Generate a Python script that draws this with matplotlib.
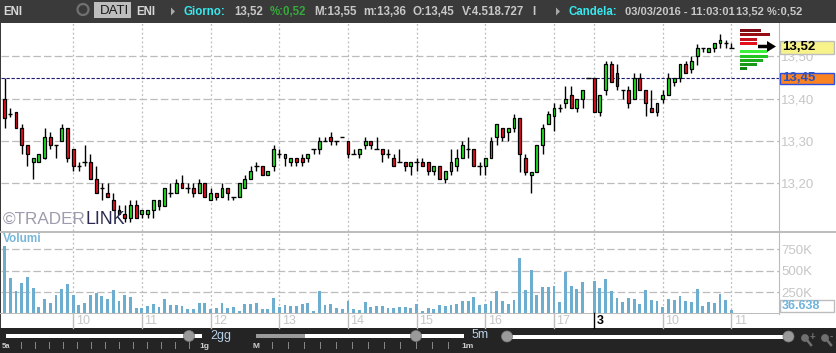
import matplotlib
matplotlib.use("Agg")
from matplotlib import pyplot as plt
from matplotlib.patches import Rectangle, Circle, FancyArrow

plt.rcParams['font.family'] = ['Liberation Sans', 'DejaVu Sans']

opens = [13.40, 13.364, 13.369, 13.332, 13.291, 13.25, 13.25, 13.26, 13.31, 13.291,
         13.30, 13.332, 13.282, 13.24, 13.25, 13.25, 13.21, 13.188, 13.178, 13.16,
         13.138, 13.128, 13.118, 13.148, 13.128, 13.128, 13.138, 13.16, 13.146, 13.178,
         13.178, 13.20, 13.188, 13.188, 13.178, 13.20, 13.16, 13.178, 13.169, 13.188,
         13.169, 13.169, 13.188, 13.21, 13.24, 13.24, 13.219, 13.24, 13.27, 13.26,
         13.25, 13.26, 13.26, 13.26, 13.282, 13.282, 13.30, 13.31, 13.30, 13.31,
         13.30, 13.27, 13.27, 13.291, 13.30, 13.282, 13.282, 13.27, 13.26, 13.25,
         13.25, 13.24, 13.25, 13.25, 13.25, 13.23, 13.24, 13.21, 13.23, 13.24,
         13.26, 13.282, 13.282, 13.24, 13.24, 13.26, 13.31, 13.332, 13.322, 13.332,
         13.354, 13.26, 13.219, 13.228, 13.291, 13.341, 13.359, 13.378, 13.39, 13.41,
         13.378, 13.40, 13.45, 13.45, 13.368, 13.42, 13.481, 13.46, 13.42, 13.42,
         13.40, 13.45, 13.42, 13.378, 13.368, 13.40, 13.41, 13.44, 13.45, 13.481,
         13.47, 13.50, 13.52, 13.51, 13.52, 13.531, 13.531, 13.52]
highs = [13.45, 13.378, 13.369, 13.341, 13.291, 13.26, 13.27, 13.332, 13.322, 13.291,
         13.341, 13.332, 13.282, 13.25, 13.291, 13.27, 13.24, 13.20, 13.20, 13.178,
         13.148, 13.148, 13.16, 13.16, 13.138, 13.138, 13.16, 13.16, 13.188, 13.20,
         13.21, 13.219, 13.20, 13.20, 13.21, 13.20, 13.188, 13.178, 13.20, 13.188,
         13.169, 13.20, 13.219, 13.24, 13.25, 13.24, 13.23, 13.291, 13.282, 13.27,
         13.26, 13.26, 13.27, 13.27, 13.282, 13.31, 13.31, 13.322, 13.30, 13.31,
         13.30, 13.282, 13.282, 13.31, 13.30, 13.31, 13.282, 13.282, 13.27, 13.282,
         13.25, 13.25, 13.26, 13.26, 13.25, 13.24, 13.24, 13.23, 13.282, 13.282,
         13.30, 13.31, 13.282, 13.25, 13.26, 13.31, 13.341, 13.332, 13.332, 13.364,
         13.354, 13.27, 13.228, 13.291, 13.341, 13.372, 13.39, 13.388, 13.431, 13.431,
         13.40, 13.42, 13.45, 13.45, 13.41, 13.49, 13.49, 13.481, 13.42, 13.43,
         13.46, 13.46, 13.42, 13.42, 13.39, 13.42, 13.46, 13.45, 13.481, 13.49,
         13.50, 13.53, 13.52, 13.52, 13.531, 13.552, 13.54, 13.531]
lows = [13.33, 13.356, 13.332, 13.27, 13.242, 13.21, 13.25, 13.258, 13.282, 13.26,
        13.30, 13.25, 13.23, 13.23, 13.24, 13.21, 13.178, 13.16, 13.169, 13.138,
        13.128, 13.108, 13.108, 13.118, 13.118, 13.118, 13.118, 13.138, 13.146, 13.169,
        13.178, 13.188, 13.178, 13.169, 13.178, 13.169, 13.16, 13.16, 13.169, 13.16,
        13.16, 13.169, 13.188, 13.21, 13.23, 13.219, 13.219, 13.23, 13.26, 13.24,
        13.24, 13.24, 13.24, 13.25, 13.27, 13.27, 13.30, 13.291, 13.291, 13.31,
        13.26, 13.27, 13.26, 13.282, 13.282, 13.282, 13.25, 13.26, 13.24, 13.25,
        13.23, 13.219, 13.23, 13.24, 13.219, 13.219, 13.21, 13.20, 13.219, 13.23,
        13.26, 13.26, 13.24, 13.219, 13.219, 13.26, 13.291, 13.30, 13.30, 13.322,
        13.228, 13.219, 13.178, 13.228, 13.27, 13.341, 13.324, 13.368, 13.378, 13.378,
        13.368, 13.378, 13.45, 13.368, 13.359, 13.41, 13.44, 13.42, 13.40, 13.378,
        13.40, 13.42, 13.359, 13.368, 13.359, 13.39, 13.41, 13.43, 13.44, 13.46,
        13.46, 13.48, 13.51, 13.51, 13.51, 13.52, 13.52, 13.52]
closes = [13.354, 13.364, 13.332, 13.291, 13.27, 13.26, 13.27, 13.31, 13.291, 13.291,
          13.332, 13.26, 13.24, 13.24, 13.25, 13.21, 13.178, 13.188, 13.169, 13.138,
          13.128, 13.118, 13.148, 13.118, 13.138, 13.138, 13.16, 13.146, 13.188, 13.178,
          13.20, 13.188, 13.188, 13.178, 13.20, 13.169, 13.178, 13.169, 13.188, 13.178,
          13.169, 13.20, 13.21, 13.23, 13.24, 13.219, 13.23, 13.282, 13.27, 13.27,
          13.26, 13.25, 13.25, 13.27, 13.282, 13.30, 13.30, 13.30, 13.30, 13.31,
          13.27, 13.27, 13.282, 13.30, 13.291, 13.282, 13.27, 13.27, 13.24, 13.25,
          13.24, 13.25, 13.25, 13.24, 13.23, 13.24, 13.21, 13.23, 13.25, 13.26,
          13.291, 13.282, 13.24, 13.24, 13.26, 13.30, 13.341, 13.31, 13.332, 13.354,
          13.27, 13.228, 13.228, 13.291, 13.332, 13.363, 13.378, 13.378, 13.40, 13.378,
          13.40, 13.42, 13.45, 13.368, 13.41, 13.481, 13.44, 13.43, 13.42, 13.39,
          13.45, 13.42, 13.39, 13.368, 13.39, 13.41, 13.45, 13.45, 13.481, 13.46,
          13.49, 13.52, 13.52, 13.52, 13.531, 13.54, 13.531, 13.52]
volumes = [789, 414, 262, 355, 426, 297, 74, 168, 121, 215,
           285, 344, 215, 98, 121, 215, 238, 203, 168, 273,
           145, 215, 191, 62, 62, 86, 109, 74, 168, 98,
           98, 86, 51, 51, 121, 121, 51, 62, 121, 62,
           74, 27, 109, 109, 121, 51, 51, 180, 74, 98,
           86, 86, 109, 121, 27, 262, 98, 109, 62, 51,
           145, 51, 39, 133, 74, 86, 86, 62, 62, 74,
           74, 62, 109, 27, 62, 51, 98, 86, 98, 109,
           145, 145, 191, 98, 109, 145, 262, 145, 109, 156,
           648, 273, 508, 215, 309, 309, 320, 133, 484, 320,
           285, 367, 0, 379, 297, 402, 262, 180, 133, 180,
           168, 109, 273, 156, 145, 74, 168, 156, 203, 145,
           133, 285, 86, 133, 121, 227, 156, 37]

hour_index = [12, 24, 36, 48, 60, 72, 84, 96, 103, 115, 127]
hour_labels = ['10', '11', '12', '13', '14', '15', '16', '17', '3', '10', '11']
price_ticks = [13.50, 13.40, 13.30, 13.20]
price_labels = ['13,50', '13,40', '13,30', '13,20']
volume_ticks = [250, 500, 750]
volume_labels = ['250K', '500K', '750K']
open_price = 13.45
book_prices = [13.562, 13.552, 13.54, 13.531, 13.512, 13.50, 13.49, 13.481, 13.471]
book_sizes = [3.67, 5.24, 3.03, 3.03, 4.66, 4.89, 4.02, 2.97, 1.22]
book_colors = ['#7d0a12', '#960c14', '#c40f1c', '#e5101e',
               '#3cf03c', '#22c422', '#1cab1c', '#1a981a', '#128612']

W, H = 837, 353
DARK = '#3a3a3a'
STRIP = '#242424'
GRID = '#bcbcbc'
LABEL = '#c6c6c6'

fig = plt.figure(figsize=(W / 100, H / 100), dpi=100, facecolor='white')


def box(left, top, right, bottom):
    return [left / W, 1 - bottom / H, (right - left) / W, (bottom - top) / H]


# candle i sits at pixel 4.5 + 5.724 * i
x_min = (1 - 4.5) / 5.724
x_max = (778.5 - 4.5) / 5.724

ax = fig.add_axes(box(1, 23, 778.5, 231))
ax.set_xlim(x_min, x_max)
ax.set_ylim(13.0875, 13.579)
ax_vol = fig.add_axes(box(1, 232, 778.5, 313.5))
ax_vol.set_xlim(x_min, x_max)
ax_vol.set_ylim(0, 955)

for a in (ax, ax_vol):
    for side in a.spines:
        a.spines[side].set_visible(False)
    a.spines['right'].set_visible(True)
    a.spines['right'].set_color(GRID)
    a.set_axisbelow(True)
    a.set_xticks(hour_index)
    a.set_xticklabels([])
    a.tick_params(axis='x', length=0)
    a.tick_params(axis='y', length=0, labelcolor=LABEL, labelsize=9.5, pad=2)
    a.yaxis.tick_right()
    a.grid(axis='x', color=GRID, linestyle=(0, (1.5, 2)), linewidth=0.9)
    a.grid(axis='y', color=GRID, linestyle=(0, (6, 2.5)), linewidth=0.9)

ax.set_yticks(price_ticks)
ax.set_yticklabels(price_labels)
ax_vol.set_yticks(volume_ticks)
ax_vol.set_yticklabels(volume_labels)

ax.axhline(open_price, color='#1a1a70', linestyle=(0, (3, 1.5)), linewidth=0.8, zorder=1)

# candles
for i in range(len(opens)):
    ax.vlines(i, lows[i], highs[i], color='black', linewidth=1.0, zorder=2)
    if closes[i] == opens[i]:
        ax.hlines(opens[i], i - 0.38, i + 0.38, color='black', linewidth=1.0, zorder=3)
    else:
        color = '#1fe51f' if closes[i] > opens[i] else '#e8101e'
        ax.bar(i, closes[i] - opens[i], bottom=opens[i], width=0.5, color=color,
               edgecolor='black', linewidth=0.9, zorder=3)

ax.barh(book_prices, book_sizes, left=128.5, height=0.0065, color=book_colors, zorder=3)

ax_vol.bar(range(len(volumes)), volumes, width=0.5, color='#6cadd0', zorder=2)

# chrome on top of the axes, in pixel coordinates
ui = fig.add_axes([0, 0, 1, 1], zorder=5)
ui.set_xlim(0, W)
ui.set_ylim(H, 0)
ui.axis('off')

ui.add_patch(Rectangle((0, 0), W, 23, color=DARK, lw=0))
ui.add_patch(Rectangle((0, 0), 1.2, H, color=DARK, lw=0))
ui.add_patch(Rectangle((835.8, 0), 1.2, H, color=DARK, lw=0))
ui.add_patch(Rectangle((0, 230.5), W, 2, color='#bdbdbd', lw=0))
ui.add_patch(Rectangle((0, 313), 779, 1, color='#bdbdbd', lw=0))
ui.add_patch(Rectangle((0, 328), W, 25, color=STRIP, lw=0))


def label(x, y, s, color='#c8c8c8', size=8.3, weight='bold', ha='left', **kw):
    ui.text(x, y, s, color=color, fontsize=size, fontweight=weight, ha=ha, va='center', **kw)


# header
label(3, 12, 'ENI', color='#d8d8d8')
ui.add_patch(Circle((83, 9.5), 5.5, fill=False, ec='#707070', lw=1.6))
ui.add_patch(Rectangle((94, 2), 37, 16, color='#bdbdbd', lw=0))
label(99.5, 10.5, 'DATI', color='#1a1a1a', size=9.5, weight='normal')
label(136.5, 12, 'ENI', color='#d8d8d8')
ui.fill([171, 175, 171], [7.5, 11.5, 15.5], color='#a8a8a8', lw=0)
label(184, 12, 'Giorno:', color='#37e8ee')
label(234, 12, '13,52')
label(270, 12, '%:0,52', color='#36a83c')
label(314, 12, 'M:13,55')
label(363, 12, 'm:13,36')
label(413, 12, 'O:13,45')
label(462, 12, 'V:4.518.727')
label(532, 12, 'I')
ui.fill([556, 560, 556], [7.5, 11.5, 15.5], color='#a8a8a8', lw=0)
label(569, 12, 'Candela:', color='#37e8ee')
label(625, 12, '03/03/2016 - 11:03:01', size=8)
label(736, 12, '13,52 %:0,52', size=8)

# watermark
label(3, 219, '©TRADER', color='#9c9cae', size=12.3, weight='normal')
label(86, 219, 'LINK', color='#2a2a50', size=12.8, weight='normal')
label(3, 239, 'Volumi', color='#79b6d8', size=8.5)

# current price arrow and price boxes
ui.add_patch(FancyArrow(758, 46.5, 18, 0, width=3.5, head_width=11, head_length=9,
                        length_includes_head=True, color='black', lw=0))
ui.add_patch(Rectangle((780.5, 40.5), 54, 13, fc='#f8f28a', ec='#bdbdbd', lw=1))
label(782, 47.2, '13,52', color='black', size=9.5)
ui.add_patch(Rectangle((780.5, 72.5), 54, 11, fc='#fa8324', ec='#2b50e0', lw=1))
label(782, 78.2, '13,45', color='#2b50c0', size=9.5)
ui.add_patch(Rectangle((780.5, 299.5), 54, 12.5, fc='white', ec='#bdbdbd', lw=1))
label(781.5, 306, '36.638', color='#6fb4dc', size=9)

# hour ticks under the volumes
for i, text in zip(hour_index, hour_labels):
    px = 4.5 + 5.724 * i
    is_day = text == '3'
    ui.plot([px, px], [313, 328], color='black' if is_day else '#bdbdbd', lw=1)
    label(px + 2.5, 320.5, text, color='black' if is_day else LABEL, size=9,
          weight='bold' if is_day else 'normal')

# bottom sliders
ui.add_patch(Rectangle((6.5, 334), 195.5, 4, color='white', lw=0))
ui.add_patch(Rectangle((256, 334), 49, 4, color='#9a9a9a', lw=0))
ui.add_patch(Rectangle((305, 334), 159, 4, color='white', lw=0))
ui.add_patch(Rectangle((507, 335), 281, 4, color='white', lw=0))
for kx, ky in [(189, 336), (416, 336), (507, 336.5), (788.5, 336.5)]:
    ui.add_patch(Circle((kx, ky), 5.5, fc='#9a9a9a', ec='#777777', lw=0.5))
label(210, 335.5, '2gg', color='#b8d0e8', size=9, weight='normal')
label(472, 335.5, '5m', color='#b8d0e8', size=9, weight='normal')
label(2, 346.5, '5a', color='#d0d0d0', size=5.5)
label(199, 346.5, '1g', color='#d0d0d0', size=6)
label(253, 346.5, 'M', color='#d0d0d0', size=6)
label(461, 346.5, '1m', color='#d0d0d0', size=6)
for px in list(range(21, 190, 14)) + list(range(272, 450, 16)):
    ui.plot([px, px], [342, 348], color='#8a8a8a', lw=0.7)

# zoom icons
for cx, sign in [(805, '+'), (825, '-')]:
    ui.add_patch(Circle((cx, 338), 3.5, fc='#707070', ec='#707070', lw=0.5))
    ui.plot([cx + 2, cx + 6], [340, 345], color='#707070', lw=1.8)
    label(cx + 5, 337, sign, color='#707070', size=7)

fig.savefig('out.png', dpi=100)
